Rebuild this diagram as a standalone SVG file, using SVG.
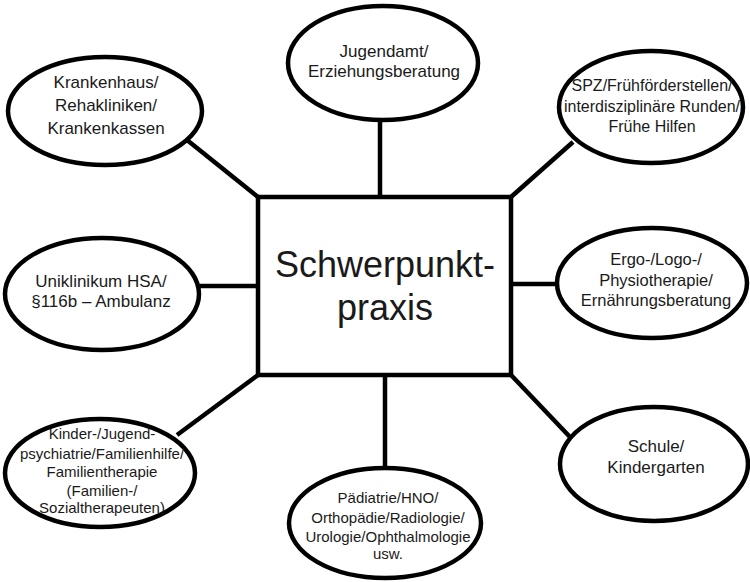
<svg xmlns="http://www.w3.org/2000/svg" width="750" height="582" viewBox="0 0 750 582">
<style>
.n{fill:#fff;stroke:#000;stroke-width:4.5}
.c{stroke:#000;stroke-width:4.5;fill:none;stroke-linecap:butt}
text{font-family:"Liberation Sans",Arial,sans-serif;fill:#1a1a1a;text-anchor:middle}
.t17{font-size:17px}
.t16{font-size:16.5px}
.t15{font-size:15px}
.t155{font-size:16px}
.big{font-size:36px}
</style>
<rect width="750" height="582" fill="#fff"/>
<g id="connectors">
<line class="c" x1="380" y1="120" x2="380" y2="197"/>
<line class="c" x1="187" y1="140" x2="258" y2="197"/>
<line class="c" x1="573" y1="142" x2="511" y2="197"/>
<line class="c" x1="200" y1="286" x2="258" y2="286"/>
<line class="c" x1="511" y1="284" x2="557" y2="284"/>
<line class="c" x1="177" y1="435" x2="258" y2="375"/>
<line class="c" x1="385" y1="375" x2="385" y2="468"/>
<line class="c" x1="570" y1="437" x2="511" y2="375"/>
</g>
<g id="center">
<rect class="n" x="258" y="197" width="253" height="178" stroke-width="4"/>
<text class="big" x="385" y="277">Schwerpunkt-</text>
<text class="big" x="385" y="320">praxis</text>
</g>
<g id="krankenhaus">
<ellipse class="n" cx="105" cy="111" rx="97" ry="54"/>
<text class="t17" x="106" y="88">Krankenhaus/</text>
<text class="t17" x="106" y="111">Rehakliniken/</text>
<text class="t17" x="106" y="134">Krankenkassen</text>
</g>
<g id="jugendamt">
<ellipse class="n" cx="383" cy="63" rx="95" ry="57"/>
<text class="t17" x="384" y="57">Jugendamt/</text>
<text class="t17" x="384" y="77">Erziehungsberatung</text>
</g>
<g id="spz">
<ellipse class="n" cx="651" cy="107" rx="92" ry="56"/>
<text class="t155" x="652" y="91">SPZ/Frühförderstellen/</text>
<text class="t155" x="652" y="112">interdisziplinäre Runden/</text>
<text class="t155" x="652" y="132">Frühe Hilfen</text>
</g>
<g id="ergo">
<ellipse class="n" cx="652" cy="283" rx="95" ry="55"/>
<text class="t16" x="656" y="265">Ergo-/Logo-/</text>
<text class="t16" x="656" y="286">Physiotherapie/</text>
<text class="t16" x="656" y="306">Ernährungsberatung</text>
</g>
<g id="uniklinikum">
<ellipse class="n" cx="102" cy="294" rx="97" ry="56"/>
<text class="t17" x="101" y="287">Uniklinikum HSA/</text>
<text class="t17" x="101" y="307">§116b – Ambulanz</text>
</g>
<g id="kinder">
<ellipse class="n" cx="100" cy="473" rx="95" ry="54"/>
<text class="t15" x="102" y="439">Kinder-/Jugend-</text>
<text class="t15" x="102" y="459">psychiatrie/Familienhilfe/</text>
<text class="t15" x="102" y="477">Familientherapie</text>
<text class="t15" x="102" y="496">(Familien-/</text>
<text class="t15" x="102" y="513">Sozialtherapeuten)</text>
</g>
<g id="paediatrie">
<ellipse class="n" cx="385" cy="523" rx="96" ry="55"/>
<text class="t15" x="388" y="503">Pädiatrie/HNO/</text>
<text class="t15" x="388" y="523">Orthopädie/Radiologie/</text>
<text class="t15" x="388" y="542">Urologie/Ophthalmologie</text>
<text class="t15" x="388" y="559">usw.</text>
</g>
<g id="schule">
<ellipse class="n" cx="654" cy="464" rx="94" ry="57"/>
<text class="t17" x="656" y="452">Schule/</text>
<text class="t17" x="656" y="473">Kindergarten</text>
</g>
</svg>
